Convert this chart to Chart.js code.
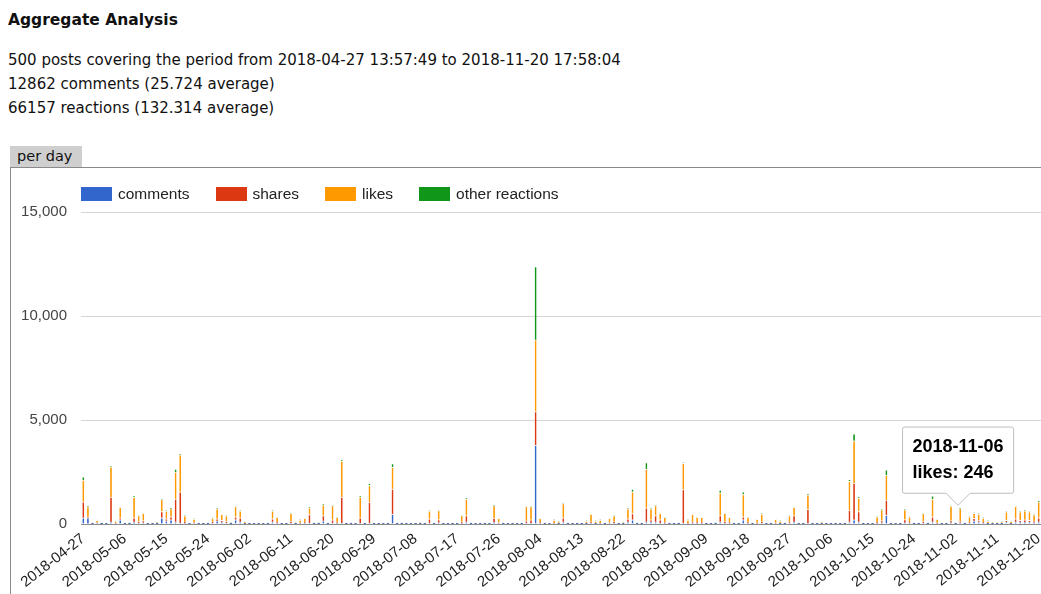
<!DOCTYPE html>
<html>
<head>
<meta charset="utf-8">
<script src="https://cdn.jsdelivr.net/npm/chart.js@4.4.0/dist/chart.umd.min.js"></script>
<style>
    html, body { margin: 0; padding: 0; background: #fff; overflow: hidden; }
    body { width: 1041px; height: 594px; position: relative; font-family: "DejaVu Sans", sans-serif; color: #111; }
    .titulo { position: absolute; left: 8px; top: 10px; line-height: 20px; font-weight: bold; font-size: 15.5px; }
    .linha { position: absolute; left: 8px; line-height: 20px; font-size: 15px; }
    .aba { position: absolute; left: 10px; top: 146px; width: 72px; height: 21px; background: #cfcfcf; font-size: 14.5px; line-height: 21px; padding-left: 7px; box-sizing: border-box; }
    .quadro { position: absolute; left: 10px; top: 167px; width: 1040px; height: 440px; border-top: 1px solid #8a8a8a; border-left: 1px solid #8a8a8a; }
    #grafico-box { position: absolute; left: 11px; top: 168px; width: 1030px; height: 426px; }
    .legenda { position: absolute; left: 81px; top: 185px; display: flex; align-items: center; font-family: "Liberation Sans", Arial, sans-serif; font-size: 15.5px; color: #222; }
    .legenda .item { display: flex; align-items: center; margin-right: 26px; }
    .legenda .caixa { width: 31px; height: 14px; margin-right: 6px; }
</style>
</head>
<body>
<div class="titulo">Aggregate Analysis</div>
<div class="linha" style="top: 50px;">500 posts covering the period from 2018-04-27 13:57:49 to 2018-11-20 17:58:04</div>
<div class="linha" style="top: 74px;">12862 comments (25.724 average)</div>
<div class="linha" style="top: 98px;">66157 reactions (132.314 average)</div>
<div class="aba">per day</div>
<div class="quadro"></div>
<div id="grafico-box"><canvas id="posts-por-dia"></canvas></div>
<div class="legenda" id="legenda"></div>

<script>
// categorias: um dia por barra, de 2018-04-27 a 2018-11-20
const inicio = Date.UTC(2018, 3, 27);
const totalDias = 208;
const dias = [];
for (let i = 0; i < totalDias; i++) {
    dias.push(new Date(inicio + i * 86400000).toISOString().slice(0, 10));
}

// rótulos mostrados no eixo x
const rotulosEixo = ['2018-04-27', '2018-05-06', '2018-05-15', '2018-05-24', '2018-06-02', '2018-06-11',
    '2018-06-20', '2018-06-29', '2018-07-08', '2018-07-17', '2018-07-26', '2018-08-04', '2018-08-13',
    '2018-08-22', '2018-08-31', '2018-09-09', '2018-09-18', '2018-09-27', '2018-10-06', '2018-10-15',
    '2018-10-24', '2018-11-02', '2018-11-11', '2018-11-20'];

const series = ['comments', 'shares', 'likes', 'other reactions'];
const cores = ['#3366cc', '#dc3912', '#ff9900', '#109618'];
const ticksY = [0, 5000, 10000, 15000];

const comments = [
    300, 300, 10, 40, 5, 8, 100, 30, 200, 10,
    12, 100, 50, 60, 10, 6, 15, 300, 150, 200,
    100, 50, 50, 8, 40, 12, 6, 10, 50, 150,
    80, 50, 14, 200, 100, 20, 10, 7, 12, 9,
    11, 100, 40, 10, 8, 50, 12, 30, 40, 50,
    10, 14, 150, 12, 50, 30, 50, 10, 12, 8,
    50, 10, 50, 12, 9, 7, 11, 480, 10, 12,
    8, 10, 6, 15, 9, 50, 12, 60, 10, 8,
    12, 9, 30, 100, 10, 8, 12, 9, 11, 80,
    30, 10, 8, 12, 9, 11, 50, 50, 3800, 50,
    10, 8, 30, 20, 100, 12, 9, 10, 8, 20,
    40, 20, 30, 10, 40, 50, 10, 15, 100, 200,
    12, 10, 100, 100, 100, 50, 30, 12, 9, 10,
    50, 30, 40, 40, 40, 10, 8, 12, 100, 50,
    40, 10, 8, 200, 40, 10, 30, 50, 9, 11,
    30, 20, 10, 40, 100, 12, 9, 50, 10, 8,
    15, 10, 8, 12, 9, 11, 100, 200, 100, 10,
    8, 12, 40, 60, 430, 10, 9, 12, 60, 40,
    10, 8, 50, 10, 100, 30, 9, 11, 60, 10,
    60, 12, 40, 150, 100, 40, 20, 15, 12, 15,
    80, 20, 100, 80, 80, 80, 60, 100
];

const shares = [
    770, 50, 5, 30, 0, 4, 1200, 20, 100, 5,
    6, 200, 80, 100, 4, 3, 8, 300, 100, 150,
    1100, 1500, 50, 4, 30, 5, 2, 6, 50, 100,
    100, 80, 6, 150, 200, 15, 5, 3, 6, 4,
    5, 150, 50, 5, 4, 80, 8, 30, 60, 400,
    5, 6, 250, 5, 150, 60, 1250, 6, 5, 3,
    250, 5, 1000, 6, 4, 3, 5, 1200, 5, 8,
    4, 5, 3, 10, 4, 200, 6, 150, 8, 4,
    6, 4, 80, 300, 5, 4, 5, 4, 5, 200,
    40, 5, 4, 6, 4, 5, 100, 150, 1600, 30,
    5, 4, 20, 10, 200, 6, 4, 5, 4, 15,
    60, 15, 20, 5, 30, 60, 5, 10, 150, 300,
    6, 5, 680, 100, 300, 150, 60, 6, 4, 5,
    1600, 20, 60, 50, 50, 5, 4, 6, 300, 60,
    50, 5, 4, 150, 50, 5, 30, 60, 4, 5,
    30, 15, 5, 60, 300, 6, 4, 650, 5, 4,
    10, 5, 4, 6, 4, 5, 570, 1770, 500, 5,
    4, 6, 50, 100, 720, 5, 4, 6, 150, 50,
    5, 4, 80, 5, 250, 30, 4, 5, 100, 5,
    80, 6, 50, 120, 80, 50, 15, 10, 8, 10,
    100, 15, 150, 100, 120, 100, 80, 200
];

const likes = [
    1040, 480, 25, 110, 15, 20, 1450, 90, 500, 30,
    35, 1000, 280, 350, 22, 18, 40, 570, 370, 390,
    1300, 1780, 290, 20, 170, 30, 14, 28, 190, 480,
    280, 260, 30, 490, 320, 60, 25, 18, 30, 20,
    26, 370, 230, 22, 20, 380, 38, 130, 170, 330,
    25, 32, 520, 28, 680, 230, 1720, 24, 30, 20,
    1000, 26, 800, 30, 22, 16, 28, 1050, 24, 36,
    20, 24, 15, 50, 22, 370, 30, 440, 30, 20,
    30, 22, 300, 800, 24, 20, 28, 22, 26, 600,
    200, 24, 18, 30, 22, 26, 690, 640, 3450, 190,
    24, 20, 140, 85, 680, 28, 22, 24, 20, 110,
    360, 110, 140, 24, 200, 280, 26, 70, 480, 1050,
    28, 24, 1860, 530, 480, 310, 230, 30, 22, 26,
    1270, 140, 360, 230, 230, 24, 20, 36, 1100, 400,
    230, 24, 20, 1070, 230, 26, 160, 370, 22, 26,
    160, 110, 24, 290, 400, 30, 22, 700, 24, 20,
    70, 26, 20, 38, 22, 26, 1380, 2030, 650, 24,
    20, 30, 250, 520, 1200, 26, 22, 30, 470, 250,
    24, 20, 370, 26, 850, 160, 22, 26, 690, 24,
    600, 30, 250, 246, 300, 200, 110, 70, 60, 75,
    400, 100, 600, 400, 430, 400, 300, 770
];

const outras = [
    160, 30, 2, 10, 0, 1, 30, 10, 30, 2,
    3, 40, 20, 20, 1, 1, 2, 30, 20, 20,
    140, 30, 10, 1, 10, 2, 0, 2, 10, 20,
    20, 10, 2, 20, 20, 5, 1, 1, 2, 1,
    2, 20, 10, 1, 1, 20, 2, 10, 10, 20,
    2, 2, 40, 1, 20, 10, 50, 2, 1, 1,
    40, 2, 110, 2, 1, 1, 2, 180, 1, 2,
    1, 2, 0, 3, 1, 20, 2, 20, 2, 1,
    2, 1, 20, 50, 1, 1, 2, 1, 2, 30,
    10, 1, 1, 2, 1, 2, 20, 20, 3520, 10,
    2, 1, 10, 5, 40, 2, 1, 1, 1, 5,
    20, 5, 10, 2, 10, 10, 2, 5, 20, 130,
    2, 1, 310, 20, 30, 20, 10, 2, 1, 2,
    30, 10, 20, 10, 10, 1, 1, 2, 130, 20,
    10, 1, 1, 130, 10, 2, 10, 20, 1, 2,
    10, 5, 1, 10, 30, 2, 1, 40, 1, 1,
    5, 2, 1, 2, 1, 2, 100, 330, 50, 1,
    1, 2, 10, 20, 250, 2, 1, 2, 20, 10,
    1, 1, 20, 2, 150, 10, 1, 2, 20, 1,
    20, 2, 10, 20, 20, 10, 5, 5, 3, 5,
    20, 5, 20, 20, 20, 20, 10, 30
];

// dia com o tooltip aberto na imagem
const diaDestaque = '2018-11-06';

const fonte = '"Liberation Sans", Arial, sans-serif';
const valores = [comments, shares, likes, outras];

// legenda em HTML (fica dentro da área do gráfico, à esquerda)
const legenda = document.getElementById('legenda');
series.forEach(function (nome, i) {
    const item = document.createElement('div');
    item.className = 'item';
    const caixa = document.createElement('span');
    caixa.className = 'caixa';
    caixa.style.background = cores[i];
    const texto = document.createElement('span');
    texto.textContent = nome;
    item.appendChild(caixa);
    item.appendChild(texto);
    legenda.appendChild(item);
});

// tooltip um pouco à esquerda da barra, como na imagem
Chart.Tooltip.positioners.aEsquerda = function (itens) {
    if (!itens.length) return false;
    const el = itens[0].element;
    return { x: el.x - 16, y: el.y };
};

const ctx = document.getElementById('posts-por-dia').getContext('2d');

const data = {
    labels: dias,
    datasets: series.map(function (nome, i) {
        return {
            label: nome,
            data: valores[i],
            backgroundColor: cores[i],
            borderColor: '#ffffff',
            borderWidth: { top: 1 },
            borderSkipped: 'start',
            barThickness: 1.6
        };
    })
};

const config = {
    type: 'bar',
    data: data,
    options: {
        responsive: true,
        maintainAspectRatio: false,
        animation: false,
        events: [],
        layout: { padding: { top: 44, right: 0, bottom: 0, left: 0 } },
        plugins: {
            legend: { display: false },
            tooltip: {
                enabled: true,
                position: 'aEsquerda',
                yAlign: 'bottom',
                backgroundColor: '#ffffff',
                borderColor: '#bdbdbd',
                borderWidth: 1,
                titleColor: '#000000',
                bodyColor: '#000000',
                titleFont: { family: fonte, size: 18, weight: 'bold' },
                bodyFont: { family: fonte, size: 18, weight: 'bold' },
                padding: { x: 10, y: 9 },
                titleMarginBottom: 5,
                caretSize: 12,
                caretPadding: 8,
                cornerRadius: 2,
                displayColors: false
            }
        },
        scales: {
            x: {
                stacked: true,
                grid: { display: false, drawTicks: false },
                border: { display: false },
                ticks: {
                    autoSkip: false,
                    minRotation: 38,
                    maxRotation: 38,
                    padding: 6,
                    color: '#222222',
                    font: { family: fonte, size: 15 },
                    callback: function (valor, i) {
                        return rotulosEixo.includes(dias[i]) ? dias[i] : '';
                    }
                },
                afterFit: function (escala) {
                    escala.height = 70;
                    escala.paddingLeft = 0;
                    escala.paddingRight = 0;
                }
            },
            y: {
                stacked: true,
                min: ticksY[0],
                max: ticksY[ticksY.length - 1],
                border: { display: false },
                grid: {
                    drawTicks: false,
                    color: function (c) {
                        return c.tick && c.tick.value === 0 ? '#8c8c8c' : '#d6d6d6';
                    }
                },
                ticks: {
                    stepSize: ticksY[1] - ticksY[0],
                    padding: 14,
                    color: '#444444',
                    font: { family: fonte, size: 15 },
                    callback: function (valor) {
                        return valor.toLocaleString('en-US');
                    }
                },
                afterFit: function (escala) {
                    escala.width = 70;
                    escala.paddingTop = 0;
                    escala.paddingBottom = 0;
                }
            }
        }
    }
};

const grafico = new Chart(ctx, config);

// deixa o tooltip aberto no mesmo ponto da imagem
grafico.tooltip.setActiveElements([{ datasetIndex: 2, index: dias.indexOf(diaDestaque) }], { x: 0, y: 0 });
grafico.update();
</script>
</body>
</html>
